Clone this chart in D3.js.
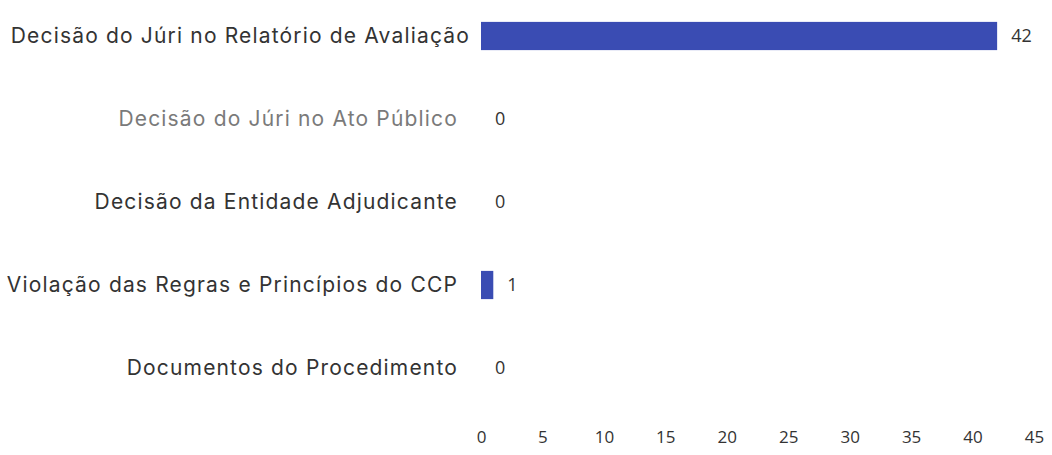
<!DOCTYPE html>
<html>
<head>
<meta charset="utf-8">
<script src="https://cdn.jsdelivr.net/npm/d3@7"></script>
<style>
  body { margin: 0; background: #fff; }
  svg { display: block; }
</style>
</head>
<body>
<div id="chart"></div>
<script>
// Motivos das reclamações
var categories = [
  "Decisão do Júri no Relatório de Avaliação",
  "Decisão do Júri no Ato Público",
  "Decisão da Entidade Adjudicante",
  "Violação das Regras e Princípios do CCP",
  "Documentos do Procedimento"
];
var values = [42, 0, 0, 1, 0];
var xTicks = [0, 5, 10, 15, 20, 25, 30, 35, 40, 45];

var width = 1052, height = 455;

var svg = d3.select("#chart").append("svg")
    .attr("width", width)
    .attr("height", height);

var x = d3.scaleLinear()
    .domain([0, 45])
    .range([481, 1034]);

var y = d3.scaleBand()
    .domain(categories)
    .range([-5.5, 409.5])
    .paddingInner(0.66)
    .paddingOuter(0.33);

// bars
svg.append("g").selectAll("rect")
    .data(values)
  .enter().append("rect")
    .attr("x", x(0))
    .attr("y", function(d, i) { return y(categories[i]); })
    .attr("width", function(d) { return x(d) - x(0); })
    .attr("height", y.bandwidth())
    .attr("fill", "#3a4cb3");

// value labels
svg.append("g").selectAll("text")
    .data(values)
  .enter().append("text")
    .attr("x", function(d) { return x(d) + 14; })
    .attr("y", function(d, i) { return y(categories[i]) + y.bandwidth() / 2; })
    .attr("dy", "0.35em")
    .style("font-family", "'Open Sans', sans-serif")
    .style("font-size", "18px")
    .attr("fill", "#333")
    .text(function(d) { return d; });

// category labels
svg.append("g").selectAll("text")
    .data(categories)
  .enter().append("text")
    .attr("x", function(d, i) { return i === 0 ? 470 : 458; })
    .attr("y", function(d) { return y(d) + y.bandwidth() / 2; })
    .attr("dy", "0.33em")
    .attr("text-anchor", "end")
    .style("font-family", "Inter, sans-serif")
    .style("font-size", "21px")
    .style("letter-spacing", "1.17px")
    .attr("fill", function(d, i) { return i === 1 ? "#7a7a7a" : "#333"; })
    .text(function(d) { return d; });

// x axis
var xAxis = svg.append("g")
    .attr("transform", "translate(0,431)")
    .call(d3.axisBottom(x).tickValues(xTicks).tickSize(0).tickPadding(0));
xAxis.select(".domain").remove();
xAxis.selectAll("text")
    .attr("dy", "0.71em")
    .style("font-family", "'Open Sans', sans-serif")
    .style("font-size", "17px")
    .attr("fill", "#333");
</script>
</body>
</html>
